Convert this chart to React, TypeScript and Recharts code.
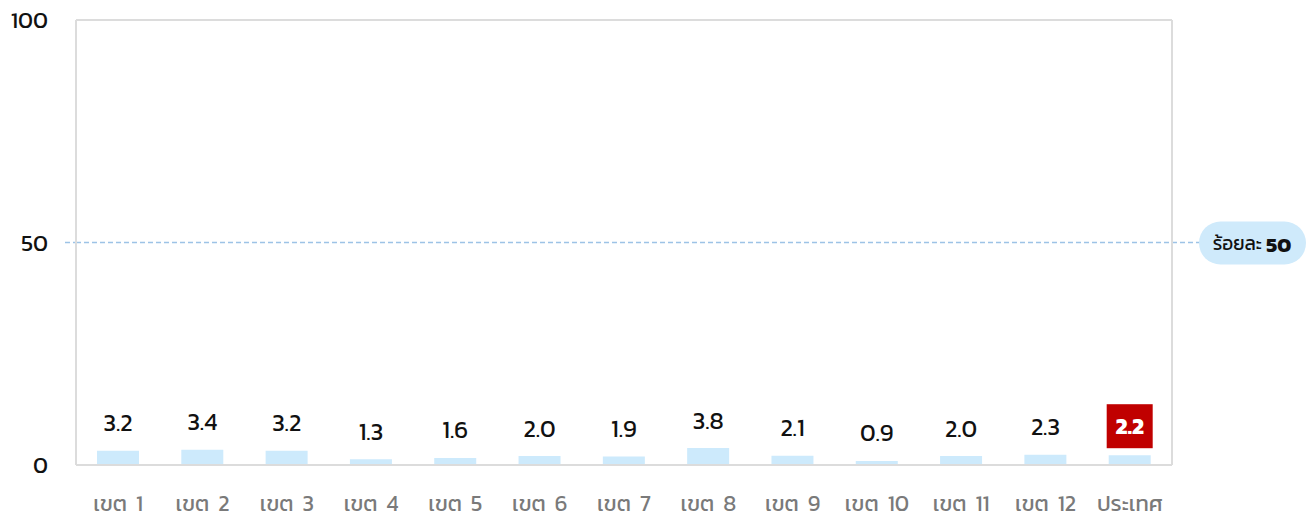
import React from 'react'
import { BarChart, Bar, XAxis, YAxis, ReferenceLine, LabelList } from 'recharts'

const categories = ['เขต 1', 'เขต 2', 'เขต 3', 'เขต 4', 'เขต 5', 'เขต 6', 'เขต 7', 'เขต 8', 'เขต 9', 'เขต 10', 'เขต 11', 'เขต 12', 'ประเทศ']
const values = [3.2, 3.4, 3.2, 1.3, 1.6, 2.0, 1.9, 3.8, 2.1, 0.9, 2.0, 2.3, 2.2]
const yTicks = [0, 50, 100]
const targetValue = 50
const targetLabel = 'ร้อยละ'
const highlightName = 'ประเทศ'

const data = categories.map((name, i) => ({ name, value: values[i] }))

const FONT = "Kanit, 'Noto Sans Thai', 'Noto Sans', sans-serif"
const BORDER = { stroke: '#dcdcdc', strokeWidth: 2 }

function XTick({ x, y, payload }: any) {
  return (
    <text x={x} y={y + 30} textAnchor="middle" dominantBaseline="central" fontSize={22} fill="#7a7a7a" fontFamily={FONT} style={{ wordSpacing: 4 }}>
      {payload.value}
    </text>
  )
}

function YTick({ x, y, payload }: any) {
  return (
    <text x={x - 20} y={y} textAnchor="end" dominantBaseline="central" fontSize={23} fill="#111" fontFamily={FONT}>
      {payload.value}
    </text>
  )
}

function ValueLabel({ x, y, width, value, index }: any) {
  const cx = x + width / 2
  if (categories[index] === highlightName) {
    return (
      <g>
        <rect x={cx - 23} y={y - 51} width={46} height={44} fill="#c00000" />
        <text x={cx} y={y - 29} textAnchor="middle" dominantBaseline="central" fontSize={23} fontWeight={700} fill="#fff" fontFamily={FONT}>
          {value.toFixed(1)}
        </text>
      </g>
    )
  }
  return (
    <text x={cx} y={y - 28} textAnchor="middle" dominantBaseline="central" fontSize={24} fill="#111" fontFamily={FONT}>
      {value.toFixed(1)}
    </text>
  )
}

function TargetLabel({ viewBox }: any) {
  const { x, y, width } = viewBox
  const right = x + width
  return (
    <g>
      <line x1={x - 11} x2={x} y1={y} y2={y} stroke="#9dc3e6" strokeDasharray="5 3" strokeWidth={1.5} />
      <line x1={right} x2={right + 28} y1={y} y2={y} stroke="#9dc3e6" strokeDasharray="5 3" strokeWidth={1.5} />
      <rect x={right + 27} y={y - 21} width={107} height={43} rx={21.5} fill="#cfeafb" />
      <text x={right + 80} y={y + 1} textAnchor="middle" dominantBaseline="central" fontSize={19} fill="#111" fontFamily={FONT}>
        {targetLabel} <tspan fontWeight={700} fontSize={21}>{targetValue}</tspan>
      </text>
    </g>
  )
}

export default function App() {
  return (
    <div style={{ width: 1307, height: 513, fontFamily: FONT }}>
      <BarChart width={1307} height={513} data={data} margin={{ top: 11, right: 142, left: 0, bottom: 0 }} barCategoryGap={0} style={{ overflow: 'visible' }}>
        <XAxis dataKey="name" xAxisId="b" height={56} tick={<XTick />} tickLine={false} axisLine={BORDER} interval={0} />
        <XAxis dataKey="name" xAxisId="t" orientation="top" height={1} tick={false} tickLine={false} axisLine={BORDER} />
        <YAxis yAxisId="l" domain={[0, 100]} ticks={yTicks} width={68} tick={<YTick />} tickLine={false} axisLine={BORDER} />
        <YAxis yAxisId="r" orientation="right" domain={[0, 100]} width={1} tick={false} tickLine={false} axisLine={BORDER} />
        <ReferenceLine
          xAxisId="b"
          yAxisId="l"
          y={targetValue}
          stroke="#9dc3e6"
          strokeDasharray="5 3"
          strokeWidth={1.5}
          label={<TargetLabel />}
        />
        <Bar xAxisId="b" yAxisId="l" dataKey="value" fill="#cdeafc" barSize={42} isAnimationActive={false}>
          <LabelList dataKey="value" content={<ValueLabel />} />
        </Bar>
      </BarChart>
    </div>
  )
}
